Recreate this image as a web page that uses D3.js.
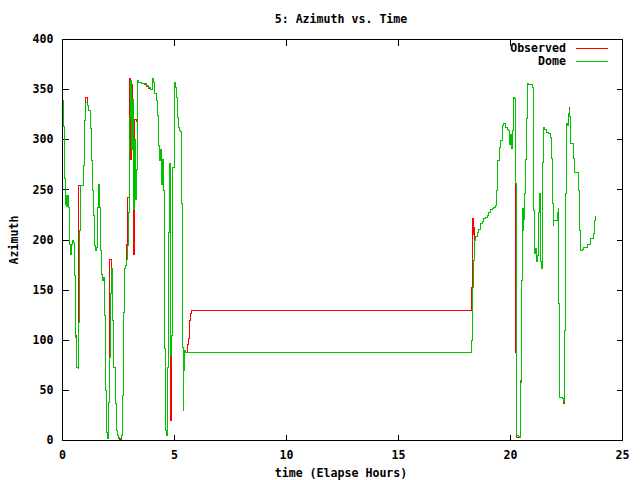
<!DOCTYPE html>
<html>
<head>
<meta charset="utf-8">
<script src="https://cdn.jsdelivr.net/npm/d3@7"></script>
<style>
  body { margin: 0; background: #fff; }
  text { font-family: "DejaVu Sans Mono", monospace; font-size: 11.6px; font-weight: bold; fill: #000; }
</style>
</head>
<body>
<svg width="640" height="480"></svg>
<script>
// [elapsed hours, azimuth]
var observed = [
  [0.05, 340], [0.06, 313], [0.10, 261], [0.15, 235], [0.165, 245], [0.19, 233], [0.24, 244],
  [0.27, 232], [0.30, 212], [0.33, 196], [0.357, 186], [0.39, 196], [0.43, 200], [0.48, 198],
  [0.52, 195], [0.55, 165], [0.60, 105], [0.64, 73], [0.70, 254], [0.95, 274], [1.0, 319],
  [1.04, 342], [1.10, 334], [1.17, 329], [1.25, 311], [1.295, 279], [1.34, 249], [1.38, 224],
  [1.43, 195], [1.47, 190], [1.52, 193], [1.56, 232], [1.62, 255], [1.65, 232], [1.70, 190],
  [1.74, 166], [1.80, 160], [1.84, 163], [1.89, 125], [1.93, 50], [1.98, 8], [2.01, 2],
  [2.04, 38], [2.08, 100], [2.11, 181], [2.17, 172], [2.22, 120], [2.26, 73], [2.37, 37],
  [2.41, 10], [2.47, 5], [2.51, 2], [2.56, 1], [2.63, 5], [2.68, 45], [2.72, 128], [2.77, 172],
  [2.83, 175], [2.87, 196], [2.92, 242], [2.99, 361], [3.05, 280], [3.08, 355], [3.14, 320],
  [3.19, 186], [3.23, 320], [3.30, 318], [3.35, 358], [3.39, 357], [3.54, 356], [3.66, 355],
  [3.75, 353], [3.85, 351], [3.93, 350], [4.0, 361], [4.08, 357], [4.12, 346], [4.18, 339],
  [4.23, 324], [4.30, 294], [4.35, 279], [4.39, 290], [4.42, 255], [4.46, 280], [4.50, 249],
  [4.57, 92], [4.61, 10], [4.64, 5], [4.69, 73], [4.73, 207], [4.78, 276], [4.82, 20],
  [4.88, 105], [4.93, 272], [4.98, 357], [5.03, 352], [5.08, 342], [5.12, 322], [5.17, 312],
  [5.21, 309], [5.27, 308], [5.31, 236], [5.36, 93], [5.39, 30], [5.42, 70], [5.45, 88],
  [5.58, 96], [5.62, 102], [5.67, 120], [5.71, 127], [5.76, 130], [18.24, 153], [18.29, 190],
  [18.30, 221], [18.34, 205], [18.36, 212], [18.39, 200], [18.44, 203], [18.51, 207],
  [18.585, 210], [18.66, 216], [18.74, 218], [18.81, 221], [18.88, 222], [18.96, 224],
  [19.03, 227], [19.11, 230], [19.18, 231], [19.25, 232], [19.33, 234], [19.375, 249],
  [19.41, 279], [19.51, 292], [19.55, 299], [19.63, 314], [19.70, 316], [19.78, 312],
  [19.85, 310], [19.92, 309], [19.97, 295], [20.0, 305], [20.04, 291], [20.08, 309],
  [20.12, 329], [20.15, 342], [20.19, 341], [20.22, 256], [20.24, 88], [20.28, 3], [20.37, 4],
  [20.42, 3], [20.44, 58], [20.47, 160], [20.52, 232], [20.55, 209], [20.57, 232], [20.59, 220],
  [20.625, 246], [20.67, 280], [20.71, 321], [20.75, 356], [20.82, 355], [20.89, 355],
  [20.97, 352], [21.01, 311], [21.04, 229], [21.08, 187], [21.13, 192], [21.16, 179],
  [21.19, 185], [21.26, 227], [21.31, 246], [21.34, 179], [21.38, 172], [21.42, 209],
  [21.44, 277], [21.49, 312], [21.53, 310], [21.61, 307], [21.71, 306], [21.79, 302],
  [21.83, 281], [21.86, 236], [21.91, 214], [21.93, 219], [22.08, 227], [22.13, 232],
  [22.16, 137], [22.20, 43], [22.31, 42], [22.38, 37], [22.41, 110], [22.46, 246], [22.49, 316],
  [22.53, 314], [22.58, 326], [22.62, 333], [22.65, 323], [22.68, 296], [22.83, 281],
  [22.87, 267], [23.05, 249], [23.09, 209], [23.125, 190], [23.20, 191], [23.27, 193],
  [23.42, 196], [23.57, 201], [23.69, 206], [23.76, 219], [23.81, 224]
];

var dome = [
  [0.05, 340], [0.06, 313], [0.10, 261], [0.15, 235], [0.165, 245], [0.19, 233], [0.24, 244],
  [0.27, 232], [0.30, 212], [0.33, 196], [0.357, 186], [0.39, 196], [0.43, 200], [0.48, 198],
  [0.52, 195], [0.55, 165], [0.60, 103], [0.625, 73], [0.70, 72], [0.73, 118], [0.77, 209],
  [0.80, 254], [0.95, 274], [1.0, 319], [1.04, 337], [1.10, 334], [1.17, 329], [1.25, 311],
  [1.295, 279], [1.34, 249], [1.38, 224], [1.43, 195], [1.47, 190], [1.52, 193], [1.56, 232],
  [1.62, 255], [1.65, 232], [1.70, 190], [1.74, 166], [1.80, 160], [1.84, 163], [1.89, 125],
  [1.93, 50], [1.98, 8], [2.01, 2], [2.04, 38], [2.08, 83], [2.13, 147], [2.17, 172],
  [2.22, 120], [2.26, 73], [2.37, 37], [2.41, 10], [2.47, 5], [2.51, 3], [2.56, 2], [2.63, 5],
  [2.68, 45], [2.72, 128], [2.77, 172], [2.83, 175], [2.87, 181], [2.915, 195], [2.96, 227],
  [3.0, 321], [3.04, 359], [3.08, 290], [3.125, 340], [3.17, 230], [3.21, 300], [3.25, 240],
  [3.30, 270], [3.33, 359], [3.39, 357], [3.54, 356], [3.66, 356], [3.75, 354], [3.85, 352],
  [3.93, 350], [4.0, 361], [4.08, 357], [4.12, 346], [4.18, 339], [4.23, 324], [4.30, 294],
  [4.35, 279], [4.39, 290], [4.42, 255], [4.46, 280], [4.50, 249], [4.57, 92], [4.61, 10],
  [4.64, 5], [4.69, 73], [4.73, 207], [4.78, 276], [4.82, 85], [4.88, 105], [4.93, 272],
  [4.98, 357], [5.03, 352], [5.08, 342], [5.12, 322], [5.17, 312], [5.21, 309], [5.27, 308],
  [5.31, 236], [5.36, 93], [5.39, 30], [5.42, 70], [5.45, 90], [5.49, 88], [18.246, 100],
  [18.29, 123], [18.317, 153], [18.36, 180], [18.39, 200], [18.44, 203], [18.51, 207],
  [18.585, 210], [18.66, 216], [18.74, 218], [18.81, 221], [18.88, 222], [18.96, 224],
  [19.03, 227], [19.11, 230], [19.18, 231], [19.25, 232], [19.33, 234], [19.375, 249],
  [19.41, 279], [19.51, 292], [19.55, 299], [19.63, 314], [19.70, 316], [19.78, 312],
  [19.85, 310], [19.92, 309], [19.97, 295], [20.0, 305], [20.04, 291], [20.08, 309],
  [20.12, 329], [20.15, 342], [20.19, 341], [20.22, 256], [20.26, 5], [20.37, 4], [20.42, 3],
  [20.45, 60], [20.49, 160], [20.52, 232], [20.55, 209], [20.57, 232], [20.59, 220],
  [20.625, 246], [20.67, 280], [20.71, 321], [20.75, 356], [20.82, 355], [20.89, 355],
  [20.97, 352], [21.01, 311], [21.04, 229], [21.08, 187], [21.13, 192], [21.16, 179],
  [21.19, 185], [21.26, 227], [21.31, 246], [21.34, 179], [21.38, 172], [21.42, 209],
  [21.44, 277], [21.49, 312], [21.53, 310], [21.61, 307], [21.71, 306], [21.79, 302],
  [21.83, 281], [21.86, 236], [21.91, 214], [21.93, 219], [22.08, 227], [22.13, 232],
  [22.16, 137], [22.20, 43], [22.31, 42], [22.38, 39], [22.41, 110], [22.46, 246], [22.49, 316],
  [22.53, 314], [22.58, 326], [22.62, 331], [22.65, 323], [22.68, 296], [22.83, 281],
  [22.87, 267], [23.05, 249], [23.09, 209], [23.125, 190], [23.20, 191], [23.27, 193],
  [23.42, 196], [23.57, 201], [23.69, 206], [23.76, 219], [23.81, 224]
];

var xTicks = [0, 5, 10, 15, 20, 25],
  yTicks = [0, 50, 100, 150, 200, 250, 300, 350, 400],
  seriesNames = ["Observed", "Dome"],
  seriesColors = ["#ff0000", "#00c000"];

(function() {
  var svg = d3.select("svg"),
    pLeft = 62, pRight = 622, pTop = 39, pBottom = 440;

  var x = d3.scaleLinear().domain([0, 25]).range([pLeft, pRight]),
    y = d3.scaleLinear().domain([0, 400]).range([pBottom, pTop]);

  // frame
  svg.append("rect")
    .attr("x", pLeft + 0.5).attr("y", pTop + 0.5)
    .attr("width", pRight - pLeft).attr("height", pBottom - pTop)
    .attr("fill", "none").attr("stroke", "#000").attr("shape-rendering", "crispEdges");

  // ticks point inward, mirrored on top/right like gnuplot
  function tidy(g) {
    g.attr("font-family", null).attr("font-size", null);
    g.select(".domain").remove();
    g.selectAll("line").attr("stroke", "#000").attr("shape-rendering", "crispEdges");
  }

  svg.append("g").attr("transform", "translate(0," + (pBottom + 0.5) + ")")
    .call(d3.axisBottom(x).tickValues(xTicks).tickSize(-6).tickPadding(10)).call(tidy);
  svg.append("g").attr("transform", "translate(0," + (pTop + 0.5) + ")")
    .call(d3.axisTop(x).tickValues(xTicks).tickSize(-6).tickFormat("")).call(tidy);
  svg.append("g").attr("transform", "translate(" + (pLeft + 0.5) + ",0)")
    .call(d3.axisLeft(y).tickValues(yTicks).tickSize(-6).tickPadding(9)).call(tidy);
  svg.append("g").attr("transform", "translate(" + (pRight + 0.5) + ",0)")
    .call(d3.axisRight(y).tickValues(yTicks).tickSize(-6).tickFormat("")).call(tidy);

  var line = d3.line()
    .x(function(d) { return Math.round(x(d[0])) + 0.5; })
    .y(function(d) { return Math.round(y(d[1])) + 0.5; })
    .curve(d3.curveStepAfter);

  [observed, dome].forEach(function(s, i) {
    svg.append("path")
      .attr("d", line(s))
      .attr("fill", "none")
      .attr("stroke", seriesColors[i])
      .attr("stroke-width", 1)
      .attr("shape-rendering", "crispEdges");
  });

  // legend
  seriesNames.forEach(function(n, i) {
    var ly = 48 + i * 13;
    svg.append("text").attr("x", 566).attr("y", ly + 4).attr("text-anchor", "end").text(n);
    svg.append("line").attr("x1", 576).attr("x2", 608).attr("y1", ly + 0.5).attr("y2", ly + 0.5)
      .attr("stroke", seriesColors[i]).attr("shape-rendering", "crispEdges");
  });

  svg.append("text").attr("x", 341).attr("y", 23).attr("text-anchor", "middle").text("5: Azimuth vs. Time");
  svg.append("text").attr("x", 341).attr("y", 477).attr("text-anchor", "middle").text("time (Elapse Hours)");
  svg.append("text").attr("transform", "translate(18,240) rotate(-90)")
    .attr("text-anchor", "middle").text("Azimuth");
})();
</script>
</body>
</html>
